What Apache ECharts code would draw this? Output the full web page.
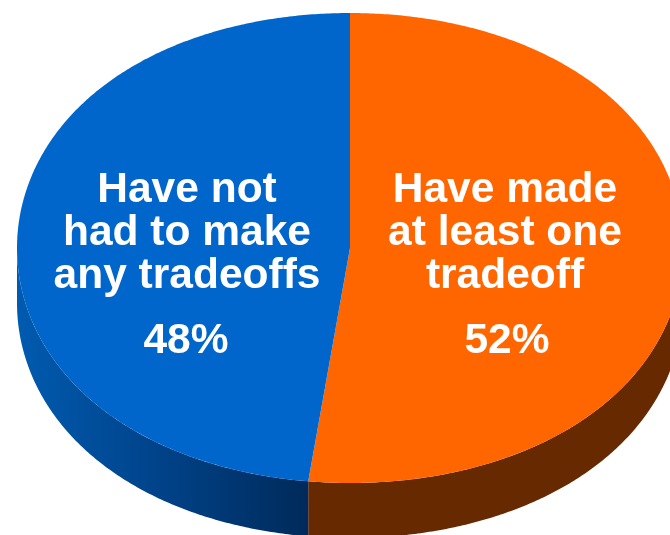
<!DOCTYPE html>
<html>
<head>
<meta charset="utf-8">
<style>
  html, body { margin: 0; padding: 0; background: #ffffff; }
  #chart { width: 670px; height: 535px; }
</style>
<script src="https://cdn.jsdelivr.net/npm/echarts@6/dist/echarts.min.js"></script>
</head>
<body>
<div id="chart"></div>
<script>
// Survey split, clockwise from twelve o'clock
const categories = ['Have made\nat least one\ntradeoff', 'Have not\nhad to make\nany tradeoffs'];
const shares = [52, 48];
const topColors = ['#FF6600', '#0066CC'];

// Tilted disc geometry
const disc = { cx: 350, cy: 248, rx: 333, ry: 235, depth: 55, bulge: 0.012 };
const labelAnchors = [{ x: 505, y: 233, px: 507, py: 341 }, { x: 187, y: 233, px: 186, py: 341 }];

// Side wall fill for each slice
const wallFills = [
  '#662900',
  new echarts.graphic.LinearGradient(17, 0, 309, 0, [
    { offset: 0, color: '#005BB0' },
    { offset: 0.5, color: '#004288' },
    { offset: 1, color: '#002A5A' }
  ], true)
];

const total = shares.reduce((a, b) => a + b, 0);

function rimPoint(deg, dy) {
  const r = deg * Math.PI / 180;
  // Perspective rounds the rim slightly outward between the axes
  const k = 1 + disc.bulge * Math.pow(Math.sin(2 * r), 2);
  return [disc.cx + k * disc.rx * Math.sin(r), disc.cy - k * disc.ry * Math.cos(r) + (dy || 0)];
}

function arcPoints(from, to, dy) {
  const pts = [];
  const n = Math.max(2, Math.ceil(Math.abs(to - from) * 2));
  for (let i = 0; i <= n; i++) pts.push(rimPoint(from + (to - from) * i / n, dy));
  return pts;
}

function renderSlice(params, api) {
  const i = params.dataIndex;
  const value = api.value(0);
  let before = 0;
  for (let k = 0; k < i; k++) before += shares[k];
  const start = before / total * 360;
  const end = (before + value) / total * 360;

  const children = [];

  // Only the front half of the rim shows a wall
  const wallFrom = Math.max(start, 90);
  const wallTo = Math.min(end, 270);
  if (wallTo > wallFrom) {
    const upper = arcPoints(wallFrom, wallTo, 0);
    const lower = arcPoints(wallTo, wallFrom, disc.depth);
    children.push({
      type: 'polygon',
      shape: { points: upper.concat(lower) },
      style: { fill: wallFills[i] }
    });
  }

  children.push({
    type: 'polygon',
    shape: { points: [[disc.cx, disc.cy]].concat(arcPoints(start, end, 0)) },
    style: { fill: topColors[i] }
  });

  const textStyle = {
    fill: '#ffffff',
    fontFamily: '"Liberation Sans", Arial, sans-serif',
    fontWeight: 'bold',
    fontSize: 42.5,
    align: 'center',
    verticalAlign: 'middle'
  };
  children.push({
    type: 'text',
    x: labelAnchors[i].x,
    y: labelAnchors[i].y,
    style: Object.assign({ text: categories[i], lineHeight: 43 }, textStyle)
  });
  children.push({
    type: 'text',
    x: labelAnchors[i].px,
    y: labelAnchors[i].py,
    style: Object.assign({ text: value + '%' }, textStyle)
  });

  return { type: 'group', children: children };
}

const chart = echarts.init(document.getElementById('chart'), null, { renderer: 'canvas' });
chart.setOption({
  animation: false,
  backgroundColor: '#ffffff',
  series: [{
    type: 'custom',
    coordinateSystem: 'none',
    silent: true,
    clip: false,
    renderItem: renderSlice,
    data: shares.map((v, i) => ({ name: categories[i], value: [v] }))
  }]
});
</script>
</body>
</html>
